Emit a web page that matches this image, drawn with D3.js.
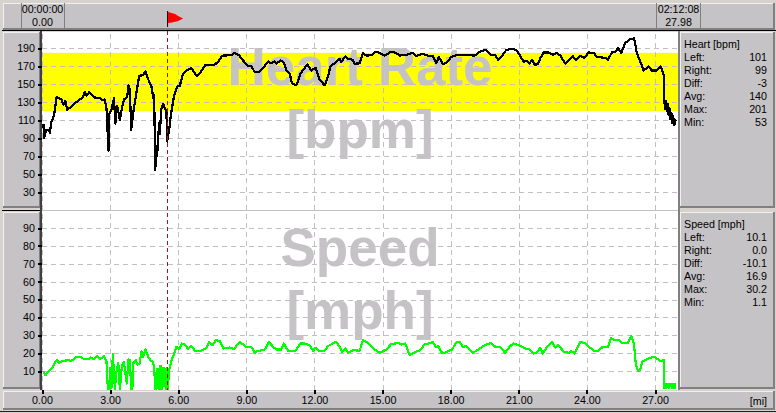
<!DOCTYPE html>
<html>
<head>
<meta charset="utf-8">
<script src="https://cdn.jsdelivr.net/npm/d3@7"></script>
<style>
  body { margin: 0; background: #d6d3ce; }
  svg { display: block; font-family: "Liberation Sans", Arial, sans-serif; font-size: 10.7px; }
  .grid line { stroke: #c0c0c0; stroke-dasharray: 5,4; shape-rendering: crispEdges; }
  .grid path, .axis path { display: none; }
  .axis line { stroke: #000; stroke-width: 2; shape-rendering: crispEdges; }
  .axis text { font-size: 10.7px; fill: #000; }
</style>
</head>
<body>
<script>
// heart rate
const heartMiles = [0.06,0.10,0.18,0.29,0.35,0.40,0.53,0.65,0.76,0.85,0.94,1.03,1.11,1.30,1.52,1.79,1.88,1.96,2.08,2.33,2.52,2.67,2.76,2.84,2.93,2.96,3.06,3.17,3.23,3.31,3.43,3.52,3.61,3.75,3.81,3.87,3.93,4.02,4.13,4.28,4.46,4.55,4.68,4.82,4.90,4.94,4.99,5.04,5.07,5.16,5.19,5.25,5.34,5.43,5.48,5.51,5.60,5.69,5.81,5.95,6.07,6.19,6.36,6.58,6.73,6.83,6.95,7.20,7.61,7.76,7.95,8.34,8.45,8.68,8.86,9.08,9.22,9.37,9.52,9.59,9.81,9.96,10.10,10.25,10.32,10.50,10.65,10.79,10.91,11.01,11.16,11.25,11.38,11.57,11.69,11.86,12.05,12.23,12.45,12.60,12.70,12.89,13.11,13.18,13.37,13.48,13.67,13.77,13.99,14.14,14.28,14.50,14.72,14.87,15.09,15.38,15.60,15.75,16.04,16.34,16.48,16.77,17.00,17.21,17.36,17.48,17.65,17.80,18.02,18.24,18.83,19.05,19.27,19.53,19.78,19.96,20.09,20.22,20.44,20.66,20.88,21.03,21.22,21.36,21.47,21.58,21.70,21.85,21.95,22.10,22.32,22.49,22.68,22.83,23.05,23.27,23.37,23.52,23.71,23.89,24.08,24.30,24.44,24.81,24.93,25.10,25.25,25.37,25.51,25.69,25.91,26.08,26.20,26.35,26.50,26.72,26.86,27.08,27.26,27.38,27.41,27.44,27.47,27.52,27.56,27.60,27.64,27.68,27.72,27.76,27.80,27.85,27.89,27.93];
const heartBpm = [106,90,99,98.5,96,107,115,136,134,133,127,131,121.5,125,130,135,141,137,141,135,134.5,132,133,123,76,116,121.5,134.5,106,126,110,123,133,135.5,148.5,144,99,118,136,159,160,164,155,147.5,134.5,138,54,81,70,107,94,121.5,128,122,121.5,86,99,118,136,147,148,160,165,168,162,159,162,171.5,171.5,175,181.5,182,184.5,182,176,170,170,163,163,164,170,175,173,175,172.5,176,174,164,161.5,151,148.5,151,161.5,168,171.5,165,168,155,148.5,158.5,169.5,173,178,174.5,181,178,177,172.5,173,184.5,181.5,182,186,184.5,181.5,186,184.5,181.5,182.5,184.5,181,183.5,181.5,181,173,180,172.5,173,180,182,182,181.5,185.5,188,182.5,182,177,180,187.5,189,188,182.5,174.5,176,172.5,177,171.5,172,179,185,185,182.5,184.5,181.5,172.5,178,181,177,181,179,185,184.5,180,179,177,185,185.5,190,184.5,195.5,200,200.7,184.5,175,165,169.5,165,165,169.5,160,133,122,131,120,128,116,123,111,118,107,114,104,109,110];

// speed
const speedMiles = [0.06,0.15,0.28,0.47,0.57,0.65,0.76,0.94,1.16,1.30,1.50,1.67,1.82,2.04,2.14,2.26,2.43,2.55,2.73,2.84,2.90,2.96,3.01,3.06,3.12,3.21,3.28,3.36,3.43,3.50,3.55,3.61,3.68,3.74,3.80,3.87,3.93,3.98,4.03,4.13,4.20,4.30,4.38,4.46,4.56,4.68,4.80,4.87,4.94,4.99,5.04,5.06,5.10,5.15,5.20,5.22,5.27,5.30,5.34,5.40,5.45,5.48,5.52,5.54,5.60,5.70,5.81,5.92,6.04,6.16,6.29,6.44,6.58,6.73,7.02,7.24,7.36,7.51,7.65,7.83,8.00,8.27,8.45,8.71,9.00,9.22,9.37,9.52,9.59,9.81,9.99,10.18,10.32,10.54,10.65,10.84,11.17,11.38,11.57,11.79,11.94,12.04,12.20,12.45,12.60,12.96,13.11,13.23,13.36,13.48,13.70,13.99,14.14,14.36,14.58,14.87,15.16,15.38,15.68,15.82,16.00,16.19,16.45,16.63,16.85,17.21,17.36,17.46,17.58,17.73,18.06,18.24,18.39,18.54,18.68,18.97,19.19,19.49,19.78,19.97,20.18,20.40,20.59,20.76,21.03,21.29,21.47,21.66,21.80,21.95,22.05,22.24,22.46,22.61,22.73,22.98,23.20,23.30,23.46,23.71,23.93,24.30,24.51,24.63,24.93,25.06,25.20,25.37,25.54,25.81,25.95,26.07,26.16,26.25,26.33,26.45,26.72,26.98,27.23,27.38,27.41,27.43,27.48,27.50,27.52,27.60,27.62,27.64,27.72,27.74,27.76,27.84,27.86,27.88,27.93];
const speedMph = [10,7.6,9.6,12,15,16,14.6,15.7,16,15.7,17.6,18,16.9,16.5,17.6,16.5,18.3,16.5,18.3,15.2,0,0,11.5,0.4,19.6,0,9.6,14.4,0,10.6,13.6,15,8,3,16.5,16,0,0,15,16,13.5,14,21,18,22,18,15.5,15.5,12,0,0,11,11,0,0,13,10,0,11.5,11.5,0,0,11.5,0,10.5,16,19,23.5,22.2,25.4,24.8,22.2,24,21.3,21.3,23,26,24.4,27.2,26.9,22.6,23.1,22.2,26.3,23.5,23.5,20.2,21.3,21.3,22,26.3,23.5,22,22,25.4,21.3,21.3,25.4,25.4,24.4,21.3,23,21.3,21.3,24,26.3,23.5,20.7,22.6,20.2,21.7,21.3,27.2,25.9,22.6,20.2,22,25,25.7,24.8,25.4,18.9,20.7,21.3,24.8,26.1,23.5,24,20.4,20.2,22,25.9,26.3,23.5,23.9,20.2,21.7,24.4,25.7,23.5,23.5,20.2,23.5,25.4,24.4,22.6,22.2,19.8,20.4,23,19.8,23.5,26.3,23,24.8,20.7,20.2,21.1,19.8,26.3,25.4,21.3,21.3,23.1,23.5,28.5,27.2,27.6,25.7,25.7,29.6,25.4,13.3,10.2,10.2,15.2,17,18,15.6,16.1,0.3,2.6,2.6,0.3,2.6,2.6,0.3,2.6,2.6,0.3,2.6,2.6,0.3,2.6,2.6];

const heartTicks = [30,50,70,90,110,130,150,170,190];
const speedTicks = [10,20,30,40,50,60,70,80,90];
const mileTicks = [0,3,6,9,12,15,18,21,24,27];
const heartZone = [120,184.6];
const flagMile = 5.51;

const heartStats = [["Left:","101"],["Right:","99"],["Diff:","-3"],["Avg:","140"],["Max:","201"],["Min:","53"]];
const speedStats = [["Left:","10.1"],["Right:","0.0"],["Diff:","-10.1"],["Avg:","16.9"],["Max:","30.2"],["Min:","1.1"]];

const panel = "#c6c3c6";

var svg = d3.select("body").append("svg").attr("width", 776).attr("height", 413);

var x = d3.scaleLinear().domain([0,27]).range([42,655]);
var yHeart = d3.scaleLinear().domain([30,190]).range([192,48]);
var ySpeed = d3.scaleLinear().domain([10,90]).range([371,228]);

// raised grey box with light top/left and dark bottom/right
function box(x0, y0, w, h) {
  svg.append("rect").attr("x", x0).attr("y", y0).attr("width", w).attr("height", h).attr("fill", panel);
  svg.append("path").attr("fill", "none").attr("stroke", "#f0f0f0").attr("shape-rendering", "crispEdges")
    .attr("d", `M${x0+.5},${y0+h}V${y0+.5}H${x0+w}`);
  svg.append("path").attr("fill", "none").attr("stroke", "#808080").attr("stroke-width", 2).attr("shape-rendering", "crispEdges")
    .attr("d", `M${x0+w-1},${y0}V${y0+h-1}H${x0}`);
}

// plot backgrounds
svg.append("rect").attr("x", 42).attr("y", 32).attr("width", 637).attr("height", 358).attr("fill", "#fff");
svg.append("rect").attr("x", 42).attr("width", 637)
  .attr("y", yHeart(heartZone[1])).attr("height", yHeart(heartZone[0]) - yHeart(heartZone[1]))
  .attr("fill", "#ffff00");

// big labels behind the lines
function watermark(txt, cy) {
  svg.append("text").attr("x", 360).attr("y", cy).attr("text-anchor", "middle")
    .attr("font-size", 53).attr("font-weight", "bold").attr("fill", panel).text(txt);
}
watermark("Heart Rate", 85);
watermark("[bpm]", 148);
watermark("Speed", 266);
watermark("[mph]", 329);

// grid lines
svg.append("g").attr("class", "grid").attr("transform", "translate(0,390)")
  .call(d3.axisBottom(x).tickValues(mileTicks).tickSize(-358).tickFormat(""));
svg.append("g").attr("class", "grid").attr("transform", "translate(42,0)")
  .call(d3.axisLeft(yHeart).tickValues(heartTicks).tickSize(-637).tickFormat(""));
svg.append("g").attr("class", "grid").attr("transform", "translate(42,0)")
  .call(d3.axisLeft(ySpeed).tickValues(speedTicks).tickSize(-637).tickFormat(""));
svg.append("line").attr("x1", 42).attr("x2", 679).attr("y1", 210.5).attr("y2", 210.5)
  .attr("stroke", "#c0c0c0").attr("shape-rendering", "crispEdges");

// series
svg.append("path").datum(d3.zip(speedMiles, speedMph))
  .attr("fill", "none").attr("stroke", "#00ff00").attr("stroke-width", 2.2).attr("stroke-linejoin", "round")
  .attr("shape-rendering", "crispEdges")
  .attr("d", d3.line().x(d => x(d[0])).y(d => ySpeed(d[1])));
svg.append("path").datum(d3.zip(heartMiles, heartBpm))
  .attr("fill", "none").attr("stroke", "#000").attr("stroke-width", 2.2).attr("stroke-linejoin", "round")
  .attr("shape-rendering", "crispEdges")
  .attr("d", d3.line().x(d => x(d[0])).y(d => yHeart(d[1])));

// cursor line
svg.append("line").attr("x1", x(flagMile)).attr("x2", x(flagMile)).attr("y1", 31).attr("y2", 390)
  .attr("stroke", "#b01010").attr("stroke-dasharray", "4,3").attr("shape-rendering", "crispEdges");

// frames
box(3, 3, 772, 27);
box(3, 32, 38, 176);
box(3, 212, 38, 177);
box(680, 32, 95, 176);
box(680, 212, 95, 177);
box(3, 391, 772, 19);

// top strip dividers
[21,64,656,700].forEach(d => {
  svg.append("line").attr("x1", d+.5).attr("x2", d+.5).attr("y1", 3).attr("y2", 29).attr("stroke", "#808080");
});
svg.append("line").attr("x1", 2).attr("x2", 776).attr("y1", 30.5).attr("y2", 30.5).attr("stroke", "#000");
svg.append("line").attr("x1", 2).attr("x2", 42).attr("y1", 210.5).attr("y2", 210.5).attr("stroke", "#000");
svg.append("line").attr("x1", 0).attr("x2", 776).attr("y1", 411.5).attr("y2", 411.5).attr("stroke", "#202020");
svg.append("line").attr("x1", 41).attr("x2", 41).attr("y1", 31).attr("y2", 390).attr("stroke", "#404040").attr("stroke-width", 2);
svg.append("line").attr("x1", 679).attr("x2", 679).attr("y1", 31).attr("y2", 390).attr("stroke", "#808080").attr("stroke-width", 2);

function label(txt, tx, ty, anchor) {
  svg.append("text").attr("x", tx).attr("y", ty).attr("dy", "0.35em").attr("text-anchor", anchor || "start").text(txt);
}
label("00:00:00", 42.5, 9, "middle");
label("0.00", 42.5, 22, "middle");
label("02:12:08", 678.5, 9, "middle");
label("27.98", 678.5, 22, "middle");

// flag
svg.append("path").attr("fill", "#ff0000")
  .attr("d", `M${x(flagMile)+1},12 l7,2 l3,2 l5,2.5 l-5,2.5 l-6,1.5 l-4,.5 z`);
svg.append("line").attr("x1", x(flagMile)+.5).attr("x2", x(flagMile)+.5).attr("y1", 11).attr("y2", 27).attr("stroke", "#000");

// axes
svg.append("g").attr("class", "axis").attr("transform", "translate(42,0)")
  .call(d3.axisLeft(yHeart).tickValues(heartTicks).tickSize(4).tickPadding(3));
svg.append("g").attr("class", "axis").attr("transform", "translate(42,0)")
  .call(d3.axisLeft(ySpeed).tickValues(speedTicks).tickSize(4).tickPadding(3));
svg.append("g").attr("class", "axis").attr("transform", "translate(0,390)")
  .call(d3.axisBottom(x).tickValues(mileTicks).tickSize(4).tickPadding(2).tickFormat(d3.format(".2f")));
label("[mi]", 767, 401, "end");

// stat panels
function stats(title, rows, top) {
  label(title, 684, top);
  rows.forEach((r, i) => {
    label(r[0], 684, top + 13 * (i + 1));
    label(r[1], 767, top + 13 * (i + 1), "end");
  });
}
stats("Heart [bpm]", heartStats, 44);
stats("Speed [mph]", speedStats, 224);
</script>
</body>
</html>
